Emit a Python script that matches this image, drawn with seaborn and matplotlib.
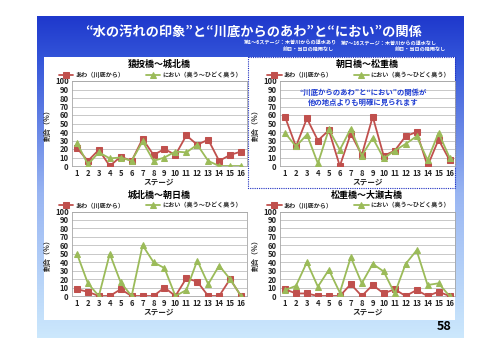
import numpy as np
import pandas as pd
import matplotlib
matplotlib.use('Agg')
import matplotlib.pyplot as plt
from matplotlib.colors import LinearSegmentedColormap
from matplotlib.patches import Rectangle
import seaborn as sns

# Data (percent per stage)
stages = list(range(1, 17))
titles = ['猿投橋～城北橋', '朝日橋～松重橋', '城北橋～朝日橋', '松重橋～大瀬古橋']
awa_label = 'あわ（川底から）'
nioi_label = 'におい（臭う～ひどく臭う）'

awa_sanage = [21, 6, 19, 0, 11, 6, 32, 13, 20, 13, 36, 25, 31, 6, 13, 17]
nioi_sanage = [27, 2, 16, 9, 10, 6, 29, 6, 10, 17, 16, 25, 6, 0, 0, 0]
awa_asahi = [58, 23, 56, 30, 42, 0, 38, 13, 58, 12, 18, 35, 40, 0, 31, 7]
nioi_asahi = [39, 23, 37, 3, 43, 19, 44, 12, 33, 9, 18, 26, 35, 7, 39, 10]
awa_johoku = [8, 5, 0, 0, 8, 0, 0, 0, 10, 0, 21, 17, 0, 0, 20, 0]
nioi_johoku = [50, 15, 0, 50, 16, 0, 60, 40, 33, 0, 7, 42, 14, 36, 20, 0]
awa_matsu = [8, 3, 3, 0, 0, 0, 14, 0, 13, 3, 8, 0, 7, 0, 5, 0]
nioi_matsu = [7, 12, 40, 11, 31, 4, 46, 15, 38, 29, 3, 38, 54, 13, 15, 0]

panels = [(awa_sanage, nioi_sanage), (awa_asahi, nioi_asahi),
          (awa_johoku, nioi_johoku), (awa_matsu, nioi_matsu)]

RED = '#C0504D'
GREEN = '#9BBB59'
BLUE_TXT = '#1E3CD2'

sns.set_style('white')
plt.rcParams['font.family'] = ['Noto Sans CJK JP', 'DejaVu Sans']

W, H = 500, 354
fig = plt.figure(figsize=(5.0, 3.54), dpi=100)

# Slide background in pixel coordinates
bg = fig.add_axes([0, 0, 1, 1])
bg.set_xlim(0, W)
bg.set_ylim(H, 0)
bg.axis('off')
cmap = LinearSegmentedColormap.from_list('slide', [
    (0.0, (0.12, 0.22, 0.80)),
    (0.13, (0.20, 0.33, 0.85)),
    (0.55, (0.60, 0.71, 0.95)),
    (1.0, (0.80, 0.91, 0.99))])
grad = np.linspace(0, 1, 256).reshape(-1, 1)
bg.imshow(grad, cmap=cmap, aspect='auto', extent=[37, 464, 338, 16], zorder=0)
bg.add_patch(Rectangle((44, 57), 411, 263, facecolor='white', edgecolor='none', zorder=1))
bg.add_patch(Rectangle((248, 57), 207, 131, facecolor='none', edgecolor='#2030C0',
                       linestyle=(0, (1, 1)), linewidth=0.8, zorder=2))

bg.text(254, 32, '“水の汚れの印象”と“川底からのあわ”と“におい”の関係', ha='center', va='center',
        fontsize=9.5, fontweight='bold', color='white', zorder=3)
bg.text(337, 43.5, '第1～6ステージ：木曽川からの導水あり', ha='right', va='center',
        fontsize=3.7, fontweight='bold', color='white', zorder=3)
bg.text(341, 43.5, '第7～16ステージ：木曽川からの導水なし', ha='left', va='center',
        fontsize=3.7, fontweight='bold', color='white', zorder=3)
bg.text(308, 50.5, '前日・当日の降雨なし', ha='center', va='center',
        fontsize=3.7, fontweight='bold', color='white', zorder=3)
bg.text(420, 50.5, '前日・当日の降雨なし', ha='center', va='center',
        fontsize=3.7, fontweight='bold', color='white', zorder=3)
bg.text(452, 326, '58', ha='right', va='center', fontsize=9, fontweight='bold',
        color='black', zorder=3)

# Plot areas (left, top, right, bottom) in pixels, and title positions
boxes = [(71.5, 81, 246.5, 166), (279.5, 81, 455, 166),
         (71.5, 211.5, 246.5, 296), (279.5, 211.5, 455, 296)]
title_pos = [(159, 64.5), (367, 64.5), (159, 195), (367, 195)]

for (x0, y0, x1, y1), title, (tx, ty), (awa, nioi) in zip(boxes, titles, title_pos, panels):
    ax = fig.add_axes([x0 / W, 1 - y1 / H, (x1 - x0) / W, (y1 - y0) / H])
    ax.set_facecolor('white')
    sns.lineplot(x=stages, y=awa, ax=ax, color=RED, marker='s', markersize=4.2,
                 markeredgecolor=RED, linewidth=1.3, label=awa_label, zorder=3)
    sns.lineplot(x=stages, y=nioi, ax=ax, color=GREEN, marker='^', markersize=4.5,
                 markeredgecolor=GREEN, linewidth=1.3, label=nioi_label, zorder=3)
    ax.set_xlim(0.5, 16.5)
    ax.set_ylim(0, 100)
    ax.set_xticks(stages)
    ax.set_yticks(range(0, 101, 10))
    ax.tick_params(axis='both', labelsize=5.5, length=0, pad=2)
    for lab in ax.get_xticklabels() + ax.get_yticklabels():
        lab.set_fontweight('bold')
    ax.yaxis.grid(True, color='#BFBFBF', linewidth=0.6)
    ax.set_axisbelow(True)
    for s in ax.spines.values():
        s.set_color('#A6A6A6')
        s.set_linewidth(0.6)
    ax.set_xlabel('ステージ', fontsize=5.5, fontweight='bold', labelpad=0)
    ax.set_ylabel('割合（％）', fontsize=5, fontweight='bold', labelpad=3)
    leg = ax.legend(loc='lower center', bbox_to_anchor=(0.45, 0.99), ncol=2, frameon=False,
                    fontsize=4.4, handlelength=2.4, columnspacing=3.5, borderaxespad=0.2,
                    handletextpad=0.3)
    for t in leg.get_texts():
        t.set_fontweight('bold')
    bg.text(tx, ty, title, ha='center', va='center', fontsize=6.5, fontweight='bold',
            color='black', zorder=3)

# Note over the upper-right chart, on a transparent overlay
over = fig.add_axes([0, 0, 1, 1])
over.set_xlim(0, W)
over.set_ylim(H, 0)
over.axis('off')
over.patch.set_alpha(0)
over.text(363, 97.5, '“川底からのあわ”と“におい”の関係が\n他の地点よりも明確に見られます',
          ha='center', va='center', fontsize=5.3, fontweight='bold', color=BLUE_TXT,
          linespacing=1.4)

fig.savefig('out.png', dpi=100)
